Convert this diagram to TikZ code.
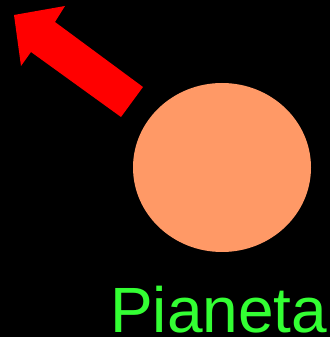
\documentclass[tikz,border=0pt]{standalone}
\usepackage{fontspec}
\setmainfont{Liberation Sans}
\usetikzlibrary{shapes.geometric}
\definecolor{planet}{HTML}{FF9966}
\definecolor{lbl}{HTML}{33FF33}
\tikzset{
  planetshape/.style={ellipse, fill=planet, draw=none, minimum width=178pt, minimum height=169pt, inner sep=0pt},
  arrowshape/.style={fill=red, draw=none},
  label text/.style={text=lbl, font=\fontsize{64}{64}\selectfont, inner sep=0pt, anchor=base west}
}
\begin{document}
\begin{tikzpicture}[x=1pt,y=1pt]
\fill[black] (0,0) rectangle (330,337);
\useasboundingbox (0,0) rectangle (330,337);
\node[planetshape] (planet) at (222,{337-167.5}) {};
\fill[arrowshape] (14,{337-15}) -- (65,{337-6}) -- (55,{337-22}) -- (143,{337-87})
  -- (121,{337-117}) -- (31,{337-52}) -- (21,{337-66}) -- cycle;
\node[label text] (name) at (110,5) {Pianeta};
\end{tikzpicture}
\end{document}
